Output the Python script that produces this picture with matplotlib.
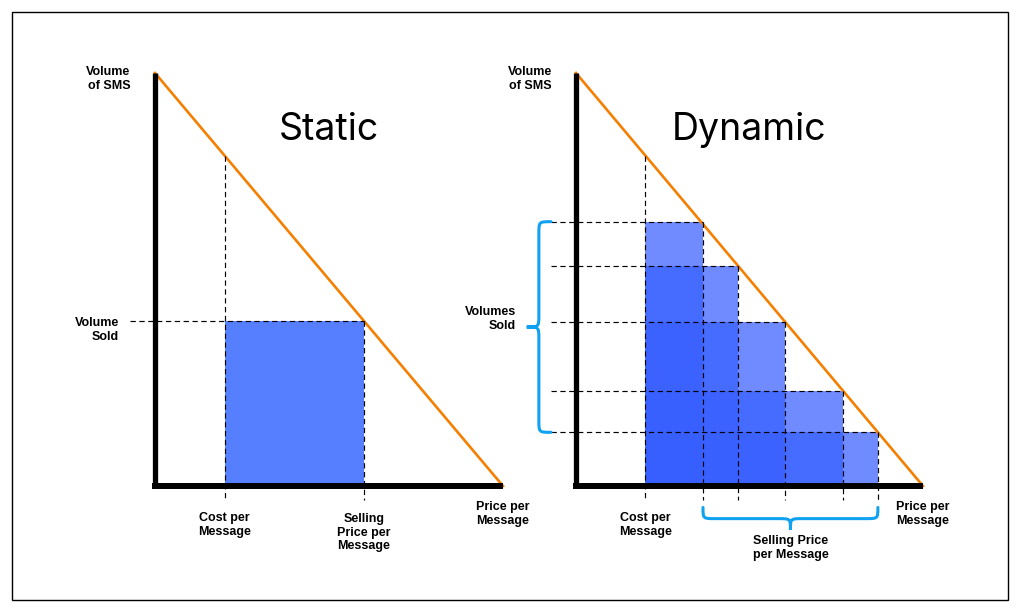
import matplotlib
matplotlib.use("Agg")
import matplotlib.pyplot as plt
from matplotlib.patches import Rectangle, PathPatch
from matplotlib.path import Path

# demand curve: volume falls linearly with price (both in 0..1 units)
demand_price = [0.0, 1.0]
demand_volume = [1.0, 0.0]

cost_price = 0.2

# static pricing: one price, one volume
static_price = 0.6
static_volume = 0.4

# dynamic pricing: several price points along the demand curve
dyn_prices = [0.366, 0.467, 0.602, 0.77, 0.87]
dyn_volumes = [0.64, 0.533, 0.398, 0.23, 0.13]

ORANGE = "#F57F00"
BLUE_STATIC = "#557FFF"
BLUE_DYN = "#375FFF"
BRACE = "#10A2F0"
LABEL_FONT = dict(fontfamily="Liberation Sans", fontweight="bold", fontsize=9,
                  linespacing=1.2, va="center")

fig = plt.figure(figsize=(10.24, 6.16), dpi=100)
fig.add_artist(Rectangle((12 / 1024, 16 / 616), 996 / 1024, 588 / 616,
                         transform=fig.transFigure, fill=False, lw=1.0, ec="black"))

ax1 = fig.add_axes([155 / 1024, 130 / 616, 348 / 1024, 413 / 616])
ax2 = fig.add_axes([576 / 1024, 130 / 616, 347 / 1024, 413 / 616])

dash = dict(color="black", lw=0.85, ls=(0, (4.5, 3)), clip_on=False, zorder=4)


def base(ax, title):
    ax.set_xlim(0, 1)
    ax.set_ylim(0, 1)
    ax.axis("off")
    ax.plot(demand_price, demand_volume, color=ORANGE, lw=1.9, clip_on=False, zorder=3)
    ax.plot([0, 0], [0, 1], color="black", lw=3.8, solid_capstyle="butt", clip_on=False, zorder=5)
    ax.plot([-0.008, 1.0], [0, 0], color="black", lw=4.3, solid_capstyle="butt", clip_on=False, zorder=5)
    ax.text(0.5, 0.862, title, ha="center", va="center", fontsize=27, fontfamily="Inter")
    ax.text(-0.07, 0.985, "Volume\nof SMS", ha="right", **LABEL_FONT)
    ax.text(1.0, -0.067, "Price per\nMessage", ha="center", **LABEL_FONT)
    ax.text(cost_price, -0.095, "Cost per\nMessage", ha="center", **LABEL_FONT)
    ax.plot([cost_price, cost_price], [1 - cost_price, -0.034], **dash)


def brace(ax, a, b, tip, r_along, r_across, vertical):
    # curly brace from a to b; tips at 'tip', pointing away by 2*r_across
    s = tip - r_across
    p = tip - 2 * r_across
    m = (a + b) / 2
    sg = 1 if b > a else -1
    pts = [(tip, a), (s, a), (s, a), (s, a + sg * r_along),
           (s, m - sg * r_along), (s, m), (s, m), (p, m),
           (s, m), (s, m), (s, m + sg * r_along),
           (s, b - sg * r_along), (s, b), (s, b), (tip, b)]
    codes = [Path.MOVETO, Path.CURVE4, Path.CURVE4, Path.CURVE4,
             Path.LINETO, Path.CURVE4, Path.CURVE4, Path.CURVE4,
             Path.CURVE4, Path.CURVE4, Path.CURVE4,
             Path.LINETO, Path.CURVE4, Path.CURVE4, Path.CURVE4]
    if not vertical:
        pts = [(y, x) for x, y in pts]
    ax.add_patch(PathPatch(Path(pts, codes), fill=False, ec=BRACE, lw=2.2,
                           capstyle="round", clip_on=False, zorder=4))


# ---- Static panel
base(ax1, "Static")
ax1.add_patch(Rectangle((cost_price, 0), static_price - cost_price, static_volume,
                        color=BLUE_STATIC, lw=0, zorder=2))
ax1.plot([-0.072, static_price], [static_volume, static_volume], **dash)
ax1.plot([static_price, static_price], [static_volume, -0.034], **dash)
ax1.text(-0.103, 0.377, "Volume\nSold", ha="right", **LABEL_FONT)
ax1.text(static_price, -0.113, "Selling\nPrice per\nMessage", ha="center", **LABEL_FONT)

# ---- Dynamic panel
base(ax2, "Dynamic")
for pr, vol in zip(dyn_prices, dyn_volumes):
    ax2.add_patch(Rectangle((cost_price, 0), pr - cost_price, vol,
                            color=BLUE_DYN, alpha=0.72, lw=0, zorder=2))
    ax2.plot([-0.072, pr], [vol, vol], **dash)
    ax2.plot([pr, pr], [vol, -0.034], **dash)

brace(ax2, dyn_volumes[0], dyn_volumes[-1], -0.072, 0.029, 0.035, vertical=True)
brace(ax2, dyn_prices[0], dyn_prices[-1], -0.052, 0.035, 0.027, vertical=False)
ax2.text(-0.173, 0.405, "Volumes\nSold", ha="right", **LABEL_FONT)
ax2.text(0.618, -0.15, "Selling Price\nper Message", ha="center", **LABEL_FONT)

fig.savefig("out.png", dpi=100)
